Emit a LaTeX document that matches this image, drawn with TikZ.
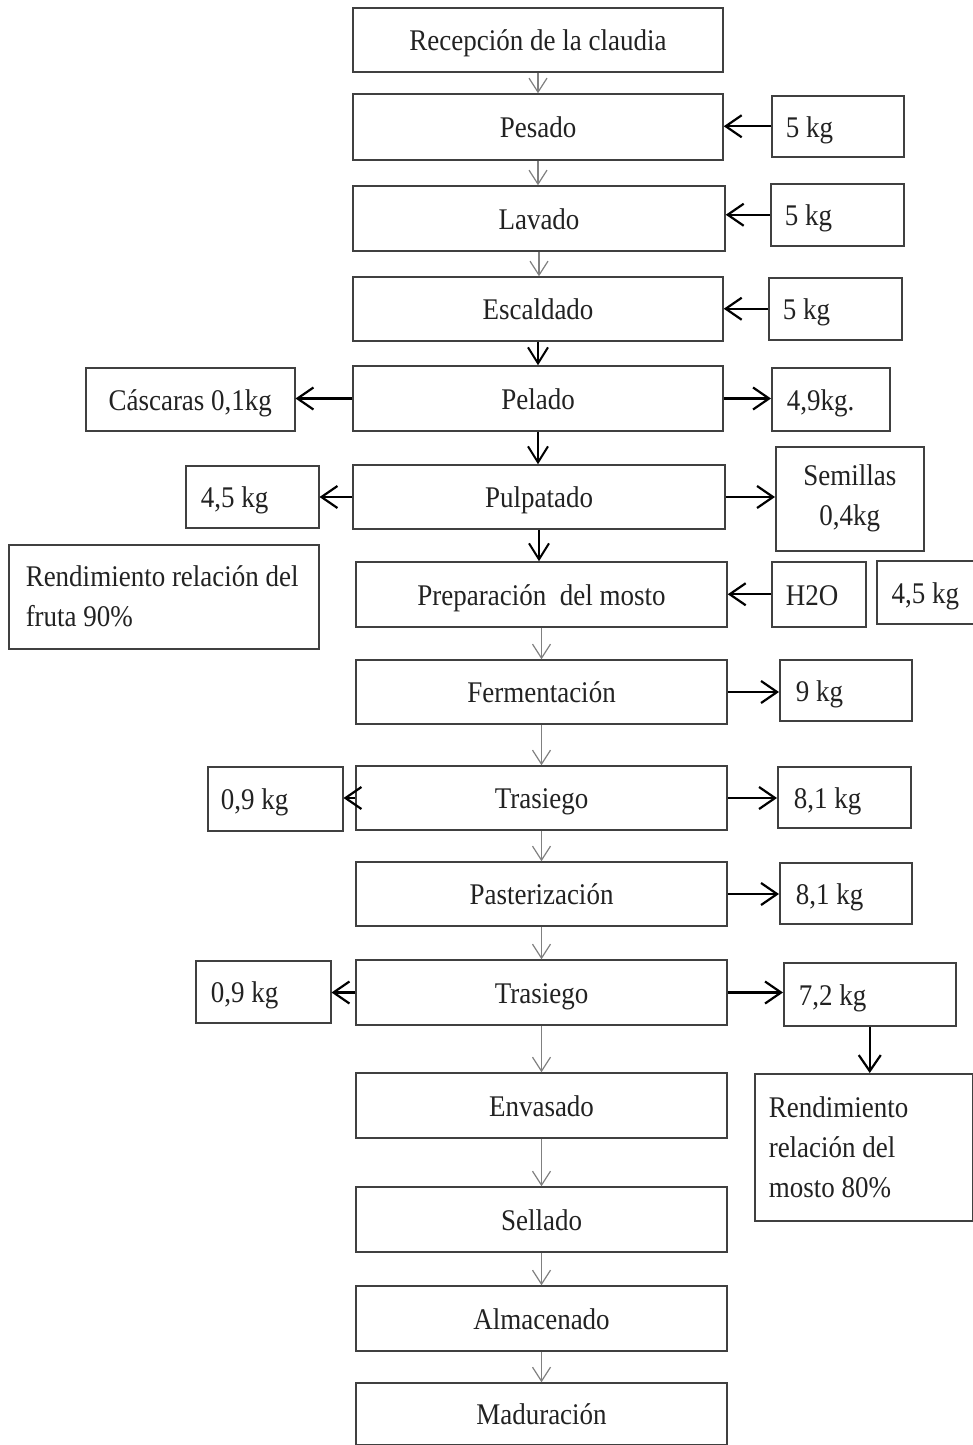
\documentclass[tikz,border=0pt]{standalone}
\usepackage{fontspec}
\setmainfont[FakeStretch=0.9]{Liberation Serif}
\usetikzlibrary{arrows.meta}
\definecolor{boxgray}{HTML}{404040}
\definecolor{flowgray}{HTML}{808080}
\definecolor{ink}{HTML}{222222}

\begin{document}
\begin{tikzpicture}[x=1pt,y=-1pt,
  every node/.style={font=\fontsize{30}{40}\selectfont, text=ink},
  proc/.style={draw=boxgray, line width=1.5pt, minimum width=371pt, minimum height=64pt,
    inner sep=0pt, text height=25pt, text depth=4pt},
  side/.style={draw=boxgray, line width=1.5pt, anchor=north west, inner ysep=0pt,
    text height=25pt, text depth=3pt, align=left,
    execute at begin node={\spaceskip=6.75pt\relax}},
  note/.style={draw=boxgray, line width=1.5pt, anchor=north west, inner ysep=0pt, align=left,
    execute at begin node={\spaceskip=6.75pt\relax}},
  thin/.style={draw=flowgray, line width=1.2pt, -{Straight Barb[length=14pt,width=18pt]}},
  bold/.style={draw=black, line width=2pt, -{Straight Barb[length=16pt,width=20pt]}},
  feed/.style={draw=black, line width=2.2pt, -{Straight Barb[length=16pt,width=22pt]}}
]
\useasboundingbox[fill=white] (0,0) rectangle (973,1445);

% main process column
\node[proc, minimum width=370pt] (rec) at (538,40) {Recepción de la claudia};
\node[proc, minimum width=370pt, minimum height=66pt] (pes) at (538,127) {Pesado};
\node[proc, minimum width=372pt, minimum height=65pt] (lav) at (539,218.5) {Lavado};
\node[proc, minimum width=370pt] (esc) at (538,309) {Escaldado};
\node[proc, minimum width=370pt, minimum height=65pt] (pel) at (538,398.5) {Pelado};
\node[proc, minimum width=372pt] (pul) at (539,497) {Pulpatado};
\node[proc, minimum height=65pt] (pre) at (541.5,594.5) {Preparación\ \ del mosto};
\node[proc] (fer) at (541.5,692) {Fermentación};
\node[proc] (tr1) at (541.5,798) {Trasiego};
\node[proc] (pas) at (541.5,894) {Pasterización};
\node[proc, minimum height=65pt] (tr2) at (541.5,992.5) {Trasiego};
\node[proc, minimum height=65pt] (env) at (541.5,1105.5) {Envasado};
\node[proc, minimum height=65pt] (sel) at (541.5,1219.5) {Sellado};
\node[proc, minimum height=65pt] (alm) at (541.5,1318.5) {Almacenado};
\node[proc, minimum height=62pt] (mad) at (541.5,1414) {Maduración};

% right-hand quantities
\node[side, inner xsep=14pt, text width=104pt, minimum height=61pt] (k1) at (771,95) {5 kg};
\node[side, inner xsep=14pt, text width=105pt, minimum height=62pt] (k2) at (770,183) {5 kg};
\node[side, inner xsep=14pt, text width=105pt, minimum height=62pt] (k3) at (768,277) {5 kg};
\node[side, inner xsep=15pt, text width=88pt, minimum height=63pt] (r49) at (771,367) {4,9kg.};
\node[note, inner xsep=4pt, text width=140pt, align=center, minimum height=104pt] (sem) at (775,446) {Semillas\\0,4kg};
\node[side, inner xsep=14pt, text width=66pt, minimum height=65pt] (h2o) at (771,561) {H2O};
\node[side, inner xsep=4pt, text width=89pt, align=center, minimum height=63pt] (w45) at (876,560) {4,5 kg};
\node[side, inner xsep=16pt, text width=100pt, minimum height=61pt] (r9) at (779,659) {9 kg};
\node[side, inner xsep=16pt, text width=101pt, minimum height=61pt] (r81a) at (777,766) {8,1 kg};
\node[side, inner xsep=16pt, text width=100pt, minimum height=61pt] (r81b) at (779,862) {8,1 kg};
\node[side, inner xsep=15pt, text width=142pt, minimum height=63pt] (r72) at (783,962) {7,2 kg};
\node[note, inner xsep=14pt, text width=190pt, minimum height=147pt] (rendR) at (754,1073)
  {Rendimiento\\relación del\\mosto 80\%};

% left-hand quantities
\node[side, inner xsep=4pt, text width=201pt, align=center, minimum height=63pt] (cas) at (85,367) {Cáscaras 0,1kg};
\node[side, inner xsep=15pt, text width=103pt, minimum height=62pt] (l45) at (185,465) {4,5 kg};
\node[note, inner xsep=17pt, text width=276pt, minimum height=104pt] (rendL) at (8,544)
  {Rendimiento relación del\\fruta 90\%};
\node[side, inner xsep=13pt, text width=109pt, minimum height=64pt] (l09a) at (207,766) {0,9 kg};
\node[side, inner xsep=15pt, text width=105pt, minimum height=62pt] (l09b) at (195,960) {0,9 kg};

% flow along the column
\draw[thin] (rec.south) -- (rec.south |- pes.north);
\draw[thin] (pes.south) -- (pes.south |- lav.north);
\draw[thin] (lav.south) -- (lav.south |- esc.north);
\draw[bold] (esc.south) -- (esc.south |- pel.north);
\draw[bold] (pel.south) -- (pel.south |- pul.north);
\draw[bold] (pul.south) -- (pul.south |- pre.north);
\draw[thin] (pre.south) -- (pre.south |- fer.north);
\draw[thin] (fer.south) -- (tr1.north);
\draw[thin] (tr1.south) -- (pas.north);
\draw[thin] (pas.south) -- (tr2.north);
\draw[thin] (tr2.south) -- (env.north);
\draw[thin] (env.south) -- (sel.north);
\draw[thin] (sel.south) -- (alm.north);
\draw[thin] (alm.south) -- (mad.north);

% inputs and outputs
\draw[feed] (k1.west) -- (k1.west -| pes.east);
\draw[feed] (k2.west) -- (k2.west -| lav.east);
\draw[feed] (k3.west) -- (k3.west -| esc.east);
\draw[feed] (pel.east) -- (pel.east -| r49.west);
\draw[feed] (pel.west) -- (pel.west -| cas.east);
\draw[feed] (pul.east) -- (pul.east -| sem.west);
\draw[feed] (pul.west) -- (pul.west -| l45.east);
\draw[feed] (h2o.west) -- (h2o.west -| pre.east);
\draw[feed] (fer.east) -- (fer.east -| r9.west);
\draw[feed] (tr1.east) -- (tr1.east -| r81a.west);
\draw[feed] (tr1.west) -- (tr1.west -| l09a.east);
\draw[feed] (pas.east) -- (pas.east -| r81b.west);
\draw[feed] (tr2.east) -- (tr2.east -| r72.west);
\draw[feed] (tr2.west) -- (tr2.west -| l09b.east);
\draw[feed] (r72.south) -- (r72.south |- rendR.north);
\end{tikzpicture}
\end{document}
